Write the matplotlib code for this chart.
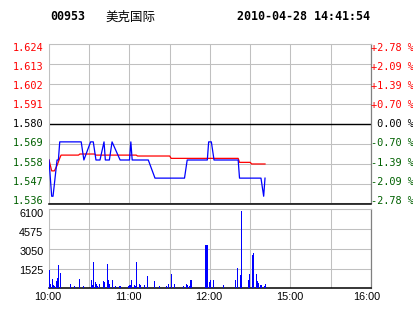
import matplotlib
matplotlib.use('Agg')
import matplotlib.pyplot as plt
from matplotlib.transforms import ScaledTranslation

# ---------------- data ----------------
stock_code = "00953"
stock_name = "美克国际"
timestamp = "2010-04-28 14:41:54"
prev_close = 1.580

price_ticks = [1.624, 1.613, 1.602, 1.591, 1.580, 1.569, 1.558, 1.547, 1.536]
time_ticks = [0, 60, 120, 180, 240]
time_labels = ['10:00', '11:00', '12:00', '15:00', '16:00']
vol_ticks = [1525, 3050, 4575, 6100]

# price line (minute index from 10:00, trading minutes)
price_min = [0, 1, 2, 3, 6, 7, 8, 24, 26, 31, 33, 35, 38, 41, 42, 45, 47, 53, 59, 60,
             61, 62, 74, 79, 101, 103, 118, 119, 121, 123, 141, 142, 158, 159, 160, 161]
price_val = [1.56, 1.55, 1.54, 1.54, 1.56, 1.56, 1.57, 1.57, 1.56, 1.57, 1.57, 1.56, 1.56,
             1.57, 1.56, 1.56, 1.57, 1.56, 1.56, 1.56, 1.57, 1.56, 1.56, 1.55, 1.55, 1.56,
             1.56, 1.57, 1.57, 1.56, 1.56, 1.55, 1.55, 1.545, 1.54, 1.55]

# average price line
avg_min = [0, 2, 4, 6, 8, 9, 22, 23, 34, 35, 65, 66, 90, 91, 141, 142, 150, 151, 161]
avg_val = [1.560, 1.554, 1.554, 1.557, 1.561, 1.5627, 1.5627, 1.5633, 1.5633, 1.5627,
           1.5627, 1.5622, 1.5622, 1.5609, 1.5609, 1.5587, 1.5587, 1.5578, 1.5578]

# volume bars
vol_min = [0, 1, 2, 3, 4, 5, 6, 7, 8, 16, 19, 22, 25, 31, 32, 33, 34, 35, 36, 37, 40, 41,
           43, 44, 45, 47, 49, 52, 53, 59, 60, 61, 63, 64, 65, 67, 68, 71, 73, 78, 82, 87,
           89, 91, 93, 100, 102, 103, 104, 105, 106, 116, 117, 118, 119, 120, 122, 130,
           139, 140, 142, 143, 148, 149, 151, 152, 154, 155, 156, 157, 158, 160, 161]
vol_val = [1415, 310, 720, 257, 180, 565, 820, 1800, 1180, 334, 180, 720, 180, 640, 257,
           2030, 460, 310, 180, 334, 565, 514, 1876, 640, 360, 640, 180, 180, 180, 180,
           257, 640, 230, 180, 2030, 334, 257, 257, 950, 565, 180, 180, 334, 1100, 334,
           180, 334, 257, 180, 640, 640, 3330, 3330, 3330, 500, 640, 640, 256, 640, 1536,
           1024, 5990, 640, 1100, 2560, 2690, 1100, 565, 384, 256, 256, 180, 330]

# ---------------- style ----------------
RED = '#ff0000'
GREEN = '#006000'
GRID = '#c0c0c0'
DARK = '#808080'
W, H = 414, 314

fig = plt.figure(figsize=(W / 100, H / 100), dpi=100)
fig.patch.set_facecolor('white')

ax = fig.add_axes([49 / W, (H - 203.5) / H, 322 / W, 159.5 / H])
axv = fig.add_axes([49 / W, (H - 288.3) / H, 322 / W, 79 / H])

grid_x = list(range(0, 241, 30))


def shift(lbl, dx_px, dy_px_down):
    lbl.set_transform(lbl.get_transform() +
                      ScaledTranslation(dx_px / 100, -dy_px_down / 100, fig.dpi_scale_trans))


def price_color(p):
    if p > prev_close + 1e-9:
        return RED
    if p < prev_close - 1e-9:
        return GREEN
    return 'black'


# ---- main price panel ----
ax.set_xlim(0, 240)
ax.set_ylim(price_ticks[-1], price_ticks[0])
ax.set_xticks(grid_x)
ax.set_xticklabels([])
ax.set_yticks(price_ticks)
ax.set_yticklabels([f"{p:.3f}" for p in price_ticks],
                   fontfamily='DejaVu Sans Mono', fontsize=7.4)
ax.grid(True, color=GRID, lw=0.75, zorder=0)
ax.tick_params(length=0, pad=4)
for i, (lbl, p) in enumerate(zip(ax.get_yticklabels(), price_ticks)):
    lbl.set_color(price_color(p))
    shift(lbl, 0, 2.7 - 0.78 * i)
ax.axhline(prev_close, color='black', lw=1.0, zorder=2)
ax.plot(price_min, price_val, color='#0000ff', lw=0.9, zorder=4)
ax.plot(avg_min, avg_val, color=RED, lw=0.9, zorder=3)
for s in ('left', 'top'):
    ax.spines[s].set_color(GRID)
    ax.spines[s].set_linewidth(0.75)
ax.spines['right'].set_color(DARK)
ax.spines['right'].set_linewidth(0.9)
ax.spines['bottom'].set_color('black')
ax.spines['bottom'].set_linewidth(1.1)

ax2 = ax.twinx()
ax2.set_ylim(ax.get_ylim())
ax2.set_yticks(price_ticks)
pct_labels = []
for p in price_ticks:
    pct = (p - prev_close) / prev_close * 100
    if abs(pct) < 0.005:
        pct_labels.append(" 0.00 %")
    else:
        pct_labels.append(f"{pct:+.2f} %")
ax2.set_yticklabels(pct_labels, fontfamily='DejaVu Sans Mono', fontsize=7.4)
ax2.tick_params(length=0, pad=0)
for i, (lbl, p) in enumerate(zip(ax2.get_yticklabels(), price_ticks)):
    lbl.set_color(price_color(p))
    shift(lbl, 0, 2.7 - 0.78 * i)
for s in ax2.spines.values():
    s.set_visible(False)

# ---- volume panel ----
axv.set_xlim(0, 240)
axv.set_ylim(0, vol_ticks[-1])
axv.bar(vol_min, vol_val, width=0.75, align='edge', color='#0000ff', zorder=3)
axv.set_xticks(grid_x)
axv.set_xticklabels([time_labels[time_ticks.index(t)] if t in time_ticks else '' for t in grid_x],
                    fontfamily='Liberation Sans', fontsize=7.8)
axv.set_yticks(vol_ticks)
axv.set_yticklabels([str(v) for v in vol_ticks], fontfamily='Liberation Sans', fontsize=7.8)
axv.grid(True, color=GRID, lw=0.75, zorder=0)
axv.tick_params(length=0, pad=4)
axv.tick_params(axis='x', pad=3)
for lbl, dy in zip(axv.get_yticklabels(), [1.8, 2.5, 3.0, 3.7]):
    shift(lbl, 0, dy)
xl = axv.get_xticklabels()
for t, lbl in zip(grid_x, xl):
    if t == 240:
        shift(lbl, -4, 0)
    else:
        shift(lbl, -1, 0)
for s in ('left', 'top'):
    axv.spines[s].set_color(GRID)
    axv.spines[s].set_linewidth(0.75)
axv.spines['right'].set_color(DARK)
axv.spines['right'].set_linewidth(0.9)
axv.spines['bottom'].set_color('black')
axv.spines['bottom'].set_linewidth(1.1)

# ---- header ----
ty = 1 - 17 / H
fig.text(50 / W, ty, stock_code, fontfamily='DejaVu Sans Mono', fontweight='bold',
         fontsize=8.4, va='center', ha='left')
fig.text(105 / W, ty, stock_name, fontfamily=['Noto Sans CJK SC', 'DejaVu Sans'],
         fontsize=9, va='center', ha='left')
fig.text(237 / W, ty, timestamp, fontfamily='DejaVu Sans Mono', fontweight='bold',
         fontsize=8.4, va='center', ha='left')

fig.savefig('out.png', dpi=100, facecolor='white')
